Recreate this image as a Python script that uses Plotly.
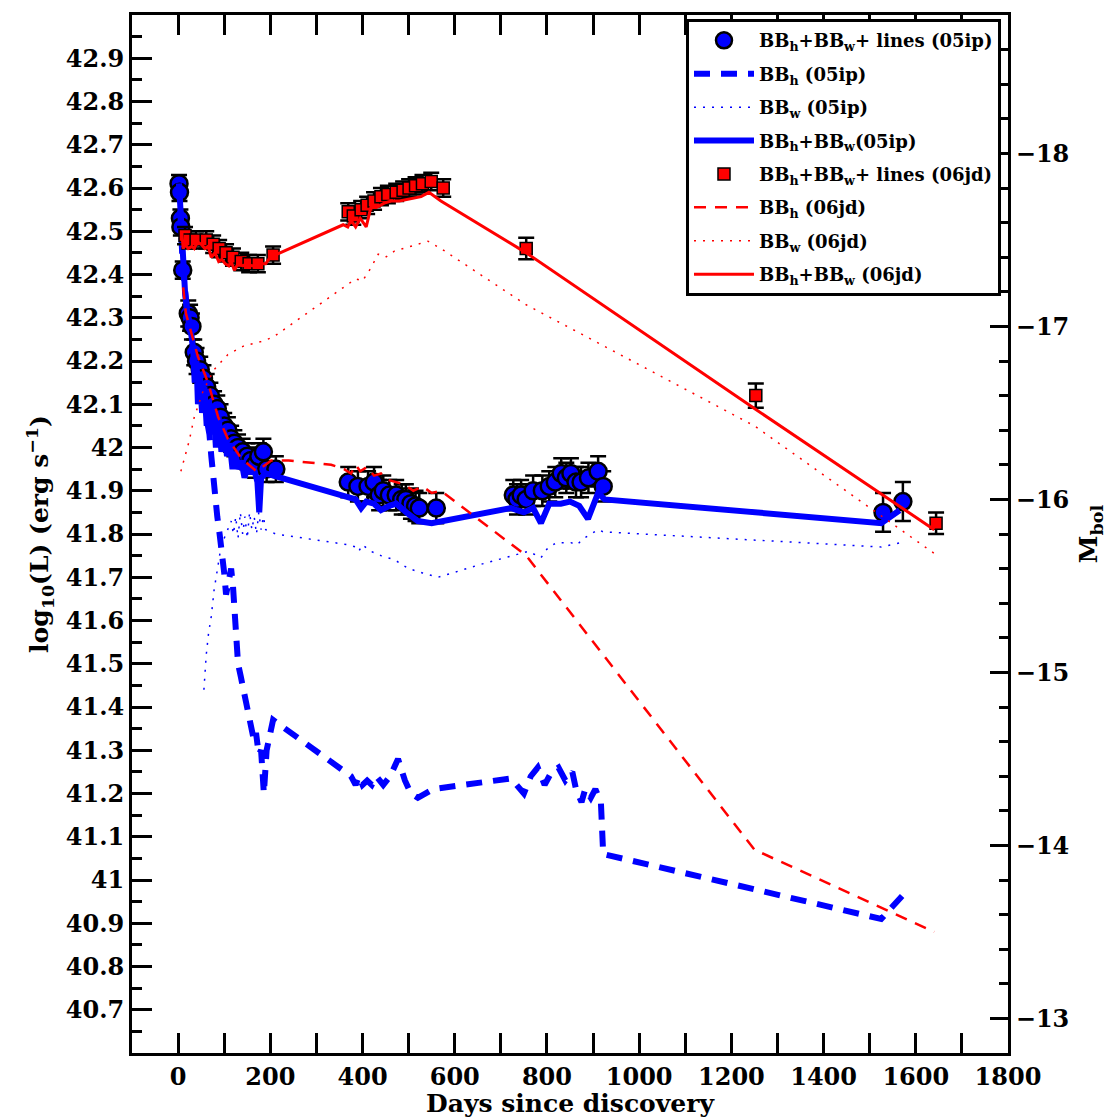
import numpy as np
import plotly.graph_objects as go

# ---------------- data ----------------
# SN 2005ip: BB_h + BB_w + lines (points with error bars)
ip_days = [2, 3, 5, 6, 10, 22, 26, 30, 35, 40, 48, 55, 62, 70, 78, 85, 92, 100, 108, 115,
           122, 130, 140, 150, 158, 167, 175, 185, 192, 212,
           369, 390, 412, 425, 436, 445, 458, 473, 485, 494, 505, 515, 523, 560,
           727, 735, 744, 755, 770, 790, 805, 818, 831, 842, 852, 863, 874, 890, 911, 922,
           1529, 1572]
ip_logL = [42.61, 42.59, 42.53, 42.51, 42.41, 42.31, 42.30, 42.28, 42.22, 42.20, 42.18, 42.16, 42.14,
           42.12, 42.10, 42.09, 42.07, 42.05, 42.04, 42.02, 42.01, 42.00, 41.99, 41.98, 41.97, 41.96,
           41.98, 41.99, 41.95, 41.95,
           41.92, 41.91, 41.91, 41.92, 41.89, 41.90, 41.89, 41.89, 41.88, 41.88, 41.87, 41.865, 41.86, 41.86,
           41.89, 41.88, 41.89, 41.88, 41.90, 41.90, 41.91, 41.92, 41.94, 41.93, 41.94, 41.92, 41.92,
           41.93, 41.945, 41.91,
           41.85, 41.875]
ip_err = [0.02] * 5 + [0.03] * 25 + [0.035] * 14 + [0.035] * 16 + [0.045, 0.045]

# SN 2005ip: BB_h + BB_w (solid)
ip_tot_days = [2, 3, 5, 7, 10, 15, 20, 25, 30, 33, 36, 40, 43, 47, 52, 57, 62, 67, 72, 77, 82, 88,
               94, 100, 106, 112, 118, 124, 130, 137, 144, 151, 158, 165, 172, 176, 180, 190,
               353, 370, 385, 397, 408, 425, 440, 458, 473, 495, 520, 550,
               722, 735, 750, 770, 787, 805, 830, 850, 870, 889, 900, 911, 925, 1525, 1565]
ip_tot = [42.61, 42.59, 42.53, 42.50, 42.42, 42.36, 42.31, 42.29, 42.25, 42.22, 42.15, 42.20, 42.10,
          42.17, 42.08, 42.14, 42.05, 42.11, 42.03, 42.09, 42.00, 42.07, 41.99, 42.04, 41.98, 42.01,
          41.95, 41.99, 41.95, 41.97, 41.93, 41.96, 41.94, 41.95, 41.92, 41.85, 41.93, 41.94,
          41.89, 41.885, 41.88, 41.86, 41.875, 41.87, 41.855, 41.865, 41.87, 41.85, 41.83, 41.825,
          41.86, 41.855, 41.85, 41.86, 41.825, 41.87, 41.87, 41.875, 41.865, 41.835, 41.87, 41.895,
          41.88, 41.825, 41.855]

# SN 2005ip: BB_h (dashed)
ip_hot_days = [2, 5, 10, 20, 30, 40, 50, 58, 63, 68, 72, 76, 80, 85, 90, 95, 100, 104, 110, 115, 119,
               123, 126, 130, 136, 142, 147, 154, 160, 165, 169, 175, 180, 186, 192, 200, 206,
               375, 385, 392, 400, 410, 420, 430, 445, 460, 477, 492, 505, 520, 553,
               722, 735, 750, 765, 780, 795, 810, 825, 840, 855, 863, 875, 883, 895, 905, 917, 922,
               1525, 1572]
ip_hot = [42.61, 42.53, 42.42, 42.31, 42.24, 42.18, 42.13, 42.10, 42.06, 42.03, 41.98, 41.93, 41.89,
          41.84, 41.80, 41.76, 41.71, 41.66, 41.70, 41.72, 41.68, 41.62, 41.56, 41.50, 41.47, 41.44,
          41.40, 41.38, 41.35, 41.32, 41.34, 41.29, 41.30, 41.20, 41.30, 41.35, 41.37,
          41.24, 41.22, 41.24, 41.22, 41.23, 41.22, 41.24, 41.22, 41.24, 41.28, 41.23, 41.20, 41.19, 41.21,
          41.235, 41.22, 41.20, 41.24, 41.26, 41.22, 41.25, 41.26, 41.23, 41.25, 41.21, 41.18, 41.21,
          41.19, 41.21, 41.18, 41.06,
          40.91, 40.965]

# SN 2005ip: BB_w (dotted)
ip_warm_days = [56, 61, 66, 72, 78, 85, 93, 100, 108, 115, 120, 125, 130, 135, 140, 145, 150, 155, 160,
                165, 170, 175, 180, 185, 190, 212, 370, 385, 392, 400, 418, 440, 470, 500, 530, 564,
                657, 722, 760, 787, 800, 820, 852, 865, 880, 911, 922, 1525, 1568]
ip_warm = [41.44, 41.52, 41.57, 41.61, 41.67, 41.72, 41.77, 41.79, 41.81, 41.83, 41.80, 41.84, 41.79,
           41.85, 41.80, 41.84, 41.79, 41.85, 41.81, 41.84, 41.80, 41.85, 41.81, 41.84, 41.81, 41.80,
           41.775, 41.77, 41.76, 41.775, 41.76, 41.75, 41.74, 41.72, 41.71, 41.70,
           41.73, 41.75, 41.76, 41.745, 41.765, 41.78, 41.78, 41.775, 41.79, 41.81, 41.805, 41.77, 41.78]

# SN 2006jd: BB_h + BB_w + lines (points with error bars)
jd_days = [15, 24, 39, 61, 76, 89, 104, 119, 137, 154, 173, 206,
           369, 380, 397, 410, 425, 440, 455, 473, 488, 501, 515, 530, 549, 575,
           755, 1253, 1644]
jd_logL = [42.49, 42.48, 42.48, 42.48, 42.47, 42.46, 42.45, 42.44, 42.43, 42.425, 42.425, 42.445,
           42.545, 42.535, 42.55, 42.56, 42.57, 42.58, 42.585, 42.59, 42.595, 42.60, 42.605, 42.61,
           42.615, 42.60,
           42.46, 42.12, 41.825]
jd_err = [0.02] * 12 + [0.02] * 14 + [0.025, 0.028, 0.025]

# SN 2006jd: BB_h + BB_w (solid)
jd_tot_days = [8, 11, 15, 22, 30, 35, 42, 50, 58, 65, 72, 80, 88, 95, 102, 110, 115, 122, 130, 140,
               150, 160, 170, 180, 190, 200, 358, 368, 375, 385, 395, 408, 418, 430, 447, 462, 480,
               505, 527, 544, 570, 755, 1250, 1640]
jd_tot = [42.50, 42.46, 42.47, 42.46, 42.465, 42.46, 42.475, 42.47, 42.46, 42.465, 42.44, 42.45,
          42.43, 42.435, 42.425, 42.42, 42.43, 42.41, 42.425, 42.42, 42.425, 42.42, 42.42, 42.425,
          42.425, 42.44, 42.515, 42.51, 42.525, 42.51, 42.53, 42.51, 42.555, 42.555, 42.565, 42.57,
          42.57, 42.575, 42.58, 42.59, 42.57, 42.45, 42.09, 41.81]

# SN 2006jd: BB_h (dashed)
jd_hot_days = [11, 17, 43, 65, 87, 108, 137, 170, 202, 240, 332, 360, 375, 385, 395, 410, 425, 440,
               455, 470, 490, 510, 530, 550, 570, 755, 1250, 1640]
jd_hot = [42.37, 42.31, 42.21, 42.15, 42.07, 42.02, 41.975, 41.945, 41.97, 41.97, 41.96, 41.95, 41.94,
          41.96, 41.945, 41.955, 41.935, 41.94, 41.925, 41.92, 41.915, 41.90, 41.91, 41.895, 41.90,
          41.75, 41.07, 40.88]

# SN 2006jd: BB_w (dotted)
jd_warm_days = [6, 24, 35, 54, 78, 108, 143, 180, 206, 369, 385, 400, 418, 434, 450, 469, 490, 505,
                520, 542, 570, 755, 1250, 1640]
jd_warm = [41.945, 42.015, 42.07, 42.13, 42.18, 42.215, 42.235, 42.245, 42.255, 42.378, 42.39, 42.385,
           42.415, 42.447, 42.44, 42.454, 42.46, 42.465, 42.47, 42.477, 42.46, 42.33, 42.05, 41.755]

# axes
x_range = [-100, 1800]
x_ticks = list(range(0, 1801, 200))
logL_range = [40.6, 43.0]
logL_ticks = [round(v, 1) for v in np.arange(40.7, 42.95, 0.1)]
M_ticks = [-18, -17, -16, -15, -14, -13]
M_ZERO = 88.70  # M_bol = M_ZERO - 2.5 log10(L)

legend_names = [
    "BB<sub>h</sub>+BB<sub>w</sub>+ lines (05ip)",
    "BB<sub>h</sub> (05ip)",
    "BB<sub>w</sub> (05ip)",
    "BB<sub>h</sub>+BB<sub>w</sub>(05ip)",
    "BB<sub>h</sub>+BB<sub>w</sub>+ lines (06jd)",
    "BB<sub>h</sub> (06jd)",
    "BB<sub>w</sub> (06jd)",
    "BB<sub>h</sub>+BB<sub>w</sub> (06jd)",
]

BLUE = "#0000ff"
RED = "#ff0000"
FONT = "DejaVu Serif"

fig = go.Figure()

fig.add_trace(go.Scatter(
    x=ip_days, y=ip_logL, mode="markers", name=legend_names[0], legendgroup="g0",
    marker=dict(symbol="circle", size=17, color=BLUE, line=dict(color="black", width=2.5)),
    error_y=dict(type="data", array=ip_err, color="black", thickness=2.5, width=8),
))
fig.add_trace(go.Scatter(
    x=ip_hot_days, y=ip_hot, mode="lines", name=legend_names[1], legendgroup="g1",
    line=dict(color=BLUE, width=6, dash="16px,11px"),
))
fig.add_trace(go.Scatter(
    x=ip_warm_days, y=ip_warm, mode="lines", name=legend_names[2], legendgroup="g2",
    line=dict(color=BLUE, width=1.5, dash="2px,7px"),
))
fig.add_trace(go.Scatter(
    x=ip_tot_days, y=ip_tot, mode="lines", name=legend_names[3], legendgroup="g3",
    line=dict(color=BLUE, width=6),
))
fig.add_trace(go.Scatter(
    x=jd_days, y=jd_logL, mode="markers", name=legend_names[4], legendgroup="g4",
    marker=dict(symbol="square", size=12, color=RED, line=dict(color="black", width=1.5)),
    error_y=dict(type="data", array=jd_err, color="black", thickness=2.5, width=8),
))
fig.add_trace(go.Scatter(
    x=jd_hot_days, y=jd_hot, mode="lines", name=legend_names[5], legendgroup="g5",
    line=dict(color=RED, width=2.5, dash="12px,9px"),
))
fig.add_trace(go.Scatter(
    x=jd_warm_days, y=jd_warm, mode="lines", name=legend_names[6], legendgroup="g6",
    line=dict(color=RED, width=1.5, dash="2px,7px"),
))
fig.add_trace(go.Scatter(
    x=jd_tot_days, y=jd_tot, mode="lines", name=legend_names[7], legendgroup="g7",
    line=dict(color=RED, width=3),
))
# empty trace so that the M_bol axis is drawn
fig.add_trace(go.Scatter(x=[None], y=[None], yaxis="y2", showlegend=False, hoverinfo="skip"))

tickfont = dict(family=FONT, size=24, color="black", weight="bold")
titlefont = dict(family=FONT, size=25, color="black", weight="bold")

fig.update_layout(
    width=1104, height=1110,
    margin=dict(l=124, r=104, t=7, b=65),
    paper_bgcolor="white", plot_bgcolor="white",
    showlegend=True,
    legend=dict(
        x=0.992, y=0.996, xanchor="right", yanchor="top",
        bgcolor="white", bordercolor="black", borderwidth=3,
        font=dict(family=FONT, size=18, color="black", weight="bold"),
        itemwidth=60, tracegroupgap=7,
    ),
    xaxis=dict(
        range=x_range, tickmode="array", tickvals=x_ticks,
        ticks="inside", ticklen=20, tickwidth=2.5, tickcolor="black",
        minor=dict(dtick=100, tick0=0, ticks="inside", ticklen=10, tickwidth=2.5, tickcolor="black"),
        showline=True, linewidth=3, linecolor="black", mirror="allticks",
        showgrid=False, zeroline=False, tickfont=tickfont,
        title=dict(text="Days since discovery", font=titlefont, standoff=2),
        automargin=False,
    ),
    yaxis=dict(
        range=logL_range, tickmode="array", tickvals=logL_ticks,
        ticktext=[("%g" % v) for v in logL_ticks],
        ticks="inside", ticklen=20, tickwidth=2.5, tickcolor="black",
        minor=dict(dtick=0.05, tick0=40.6, ticks="inside", ticklen=10, tickwidth=2.5, tickcolor="black"),
        showline=True, linewidth=3, linecolor="black", mirror=False,
        showgrid=False, zeroline=False, tickfont=tickfont,
        title=dict(text="log<sub>10</sub>(L) (erg s<sup>−1</sup>)", font=titlefont, standoff=10),
        automargin=False,
    ),
    yaxis2=dict(
        overlaying="y", side="right",
        range=[M_ZERO - 2.5 * logL_range[0], M_ZERO - 2.5 * logL_range[1]],
        tickmode="array", tickvals=M_ticks,
        ticks="inside", ticklen=18, tickwidth=2.5, tickcolor="black",
        minor=dict(dtick=0.2, tick0=-13, ticks="inside", ticklen=9, tickwidth=2.5, tickcolor="black"),
        showline=True, linewidth=3, linecolor="black",
        showgrid=False, zeroline=False, tickfont=tickfont,
        title=dict(text="M<sub>bol</sub>", font=titlefont, standoff=12),
        automargin=False,
    ),
)

fig.write_html("out.html")
